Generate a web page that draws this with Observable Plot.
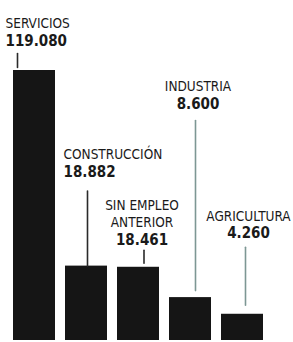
<!DOCTYPE html>
<html>
<head>
<meta charset="utf-8">
<script src="https://cdn.jsdelivr.net/npm/d3@7"></script>
<script src="https://cdn.jsdelivr.net/npm/@observablehq/plot@0.6"></script>
<style>
  html, body { margin: 0; padding: 0; background: #fff; }
  #chart svg { display: block; }
</style>
</head>
<body>
<div id="chart"></div>
<script>
// Data
const categories = ["SERVICIOS", "CONSTRUCCIÓN", "SIN EMPLEO\nANTERIOR", "INDUSTRIA", "AGRICULTURA"];
const values = [119080, 18882, 18461, 8600, 4260];
const valueLabels = ["119.080", "18.882", "18.461", "8.600", "4.260"];

const data = categories.map((c, i) => ({category: c, value: values[i], label: valueLabels[i]}));

// Per-label layout (styling / annotation placement, not data)
const layout = [
  {lead: {dx: -17, gap: 3, length: 14, stroke: "#2a2a2a"}, name: {dx: -29, dy: -43, anchor: "start"}, num: {dx: -29, dy: -25, anchor: "start"}},
  {lead: {dx: 1, gap: 0, length: 75, stroke: "#2a2a2a"}, name: {dx: -23, dy: 88, anchor: "start"}, num: {dx: -23, dy: 106, anchor: "start"}},
  {lead: {dx: 5.5, gap: 4, length: 13, stroke: "#2a2a2a"}, name: {dx: 3.5, dy: 156, anchor: "middle"}, num: {dx: 3.5, dy: 174, anchor: "middle"}},
  {lead: {dx: 5, gap: 7, length: 170, stroke: "#7d9794"}, name: {dx: 7.5, dy: 20, anchor: "middle"}, num: {dx: 7.5, dy: 38, anchor: "middle"}},
  {lead: {dx: 3, gap: 9, length: 58, stroke: "#7d9794"}, name: {dx: 6, dy: 150, anchor: "middle"}, num: {dx: 6, dy: 167, anchor: "middle"}}
];

const font = "'DejaVu Sans Condensed', 'DejaVu Sans', sans-serif";
const vline = {draw(context, l) { context.moveTo(0, 0); context.lineTo(0, -l); }};

const marks = [
  Plot.barY(data, {x: "category", y: "value", fill: "#151515"})
];
data.forEach((d, i) => {
  const L = layout[i];
  marks.push(Plot.vector([d], {
    x: "category", y: "value", length: L.lead.length, rotate: 0,
    anchor: "start", shape: vline, dx: L.lead.dx, dy: -L.lead.gap,
    stroke: L.lead.stroke, strokeWidth: 1.6
  }));
  marks.push(Plot.text([d], {
    x: "category", text: "category", frameAnchor: "top",
    dx: L.name.dx, dy: L.name.dy, textAnchor: L.name.anchor, lineAnchor: "bottom",
    fontSize: 13.5, fill: "#1a1a1a", lineHeight: 1.2
  }));
  marks.push(Plot.text([d], {
    x: "category", text: "label", frameAnchor: "top",
    dx: L.num.dx, dy: L.num.dy, textAnchor: L.num.anchor, lineAnchor: "bottom",
    fontSize: 15, fontWeight: "bold", fill: "#1a1a1a"
  }));
});

const chart = Plot.plot({
  width: 293,
  height: 342,
  marginTop: 70,
  marginBottom: 2,
  marginLeft: 2,
  marginRight: 20,
  style: {fontFamily: font, background: "#fff", fontStretch: "condensed"},
  x: {type: "band", domain: categories, padding: 0.2, axis: null},
  y: {type: "pow", exponent: 0.7, domain: [0, 119080], axis: null},
  marks
});
document.getElementById("chart").appendChild(chart);
</script>
</body>
</html>
